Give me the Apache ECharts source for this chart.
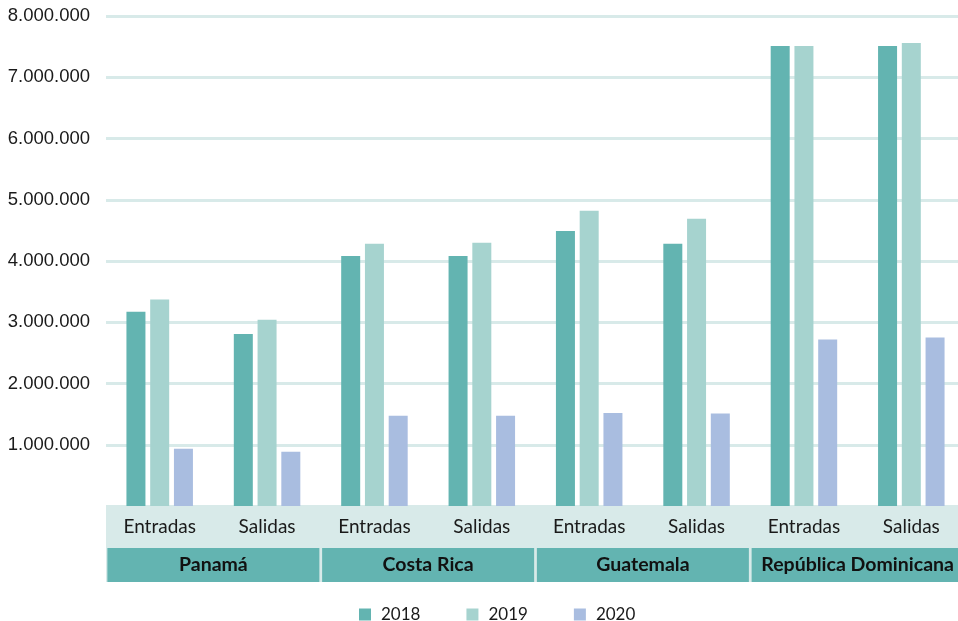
<!DOCTYPE html>
<html>
<head>
<meta charset="utf-8">
<style>
  html, body { margin: 0; padding: 0; background: #ffffff; }
  #chart { width: 958px; height: 621px; }
</style>
<script src="https://cdn.jsdelivr.net/npm/echarts@6/dist/echarts.min.js"></script>
</head>
<body>
<div id="chart"></div>
<script>
// Flow categories, grouped two per country
const flows = ['Entradas', 'Salidas', 'Entradas', 'Salidas', 'Entradas', 'Salidas', 'Entradas', 'Salidas'];
const countries = ['Panamá', 'Costa Rica', 'Guatemala', 'República Dominicana'];
const years = ['2018', '2019', '2020'];

// Movements of people per year
const values2018 = [3170000, 2810000, 4080000, 4080000, 4490000, 4280000, 7510000, 7510000];
const values2019 = [3370000, 3040000, 4280000, 4300000, 4820000, 4690000, 7510000, 7560000];
const values2020 = [935000, 887000, 1475000, 1475000, 1520000, 1510000, 2720000, 2750000];

// Value axis ticks
const yMin = 0;
const yMax = 8000000;
const yStep = 1000000;

const colors = ['#63b4b1', '#a6d3cf', '#a9bde0'];
const bandLight = '#d8eae9';
const bandDark = '#63b4b1';

const fmt = v => v === 0 ? '' : String(v).replace(/\B(?=(\d{3})+(?!\d))/g, '.');

const chart = echarts.init(document.getElementById('chart'), null, { renderer: 'canvas' });

// The plot runs a little past the right edge of the canvas
const gridLeft = 106, gridWidth = 859, gridTop = 16, gridBottom = 115;

chart.setOption({
  animation: false,
  color: colors,
  textStyle: { fontFamily: 'Lato' },
  grid: {
    left: gridLeft, width: gridWidth, top: gridTop, bottom: gridBottom,
    containLabel: false, outerBoundsMode: 'none'
  },
  graphic: [{
    type: 'rect',
    z: -10,
    shape: { x: gridLeft, y: 621 - gridBottom, width: 958 - gridLeft, height: 76 },
    style: { fill: bandLight }
  }],
  legend: {
    data: years,
    top: 601,
    left: 354,
    itemWidth: 12,
    itemHeight: 12,
    itemGap: 46,
    icon: 'rect',
    textStyle: { fontFamily: 'Lato', fontSize: 17, color: '#1a1a1a', padding: [0, 0, 0, 5] }
  },
  xAxis: [{
    type: 'category',
    data: flows,
    axisLine: { show: false },
    axisTick: { show: false },
    axisLabel: {
      interval: 0,
      margin: 11,
      fontFamily: 'Lato',
      fontSize: 19,
      color: '#1a1a1a'
    }
  }, {
    type: 'category',
    data: countries,
    position: 'bottom',
    axisLine: { show: false },
    axisTick: { show: false },
    axisLabel: {
      interval: 0,
      margin: 42,
      fontFamily: 'Lato',
      fontWeight: 'bold',
      fontSize: 19.5,
      color: '#111111',
      backgroundColor: bandDark,
      width: 212,
      height: 34,
      lineHeight: 34,
      align: 'center',
      padding: 0
    }
  }],
  yAxis: {
    type: 'value',
    min: yMin,
    max: yMax,
    interval: yStep,
    axisLine: { show: false },
    axisTick: { show: false },
    axisLabel: {
      formatter: fmt,
      margin: 16,
      fontFamily: 'Liberation Sans',
      fontSize: 18.5,
      color: '#1a1a1a'
    },
    splitLine: { lineStyle: { color: '#d8eae9', width: 3 } }
  },
  series: [
    { name: years[0], type: 'bar', data: values2018, barWidth: 19, barGap: '25%', xAxisIndex: 0 },
    { name: years[1], type: 'bar', data: values2019, barWidth: 19, barGap: '25%', xAxisIndex: 0 },
    { name: years[2], type: 'bar', data: values2020, barWidth: 19, barGap: '25%', xAxisIndex: 0 }
  ]
});
</script>
</body>
</html>
